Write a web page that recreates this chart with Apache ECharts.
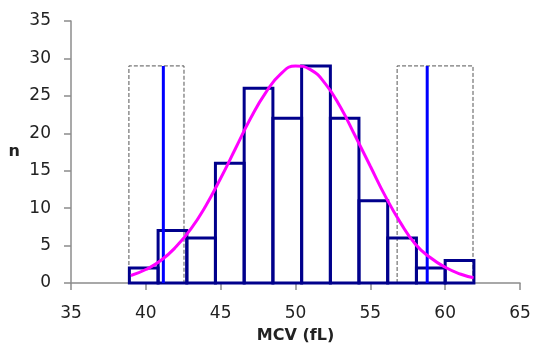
<!DOCTYPE html>
<html><head><meta charset="utf-8">
<script src="https://cdn.jsdelivr.net/npm/echarts@6/dist/echarts.min.js"></script>
<style>html,body{margin:0;padding:0;background:#fff}#c{width:534px;height:347px}</style>
</head><body><div id="c"></div>
<script>
const binEdges = [38.9, 40.82, 42.74, 44.65, 46.57, 48.49, 50.41, 52.33, 54.24, 56.16, 58.08, 60.0, 61.92];
const counts = [2, 7, 6, 16, 26, 22, 29, 22, 11, 6, 2, 3];
const curveX = [39, 40, 41, 42, 43, 44, 45, 46, 47, 48, 49, 50, 51, 52, 53, 54, 55, 56, 57, 58, 59, 60, 61, 61.9];
const curveY = [1.0, 1.8, 3.0, 4.8, 7.2, 10.3, 14.0, 18.0, 22.0, 25.4, 27.9, 29.0, 28.5, 26.6, 23.5, 19.6, 15.6, 11.6, 8.1, 5.2, 3.4, 2.1, 1.2, 0.7];
const limitLines = [41.17, 58.8];
const limitHeight = 29;
const boxes = [[38.87, 42.55], [56.79, 61.86]];
const xTicks = [35, 40, 45, 50, 55, 60, 65];
const yTicks = [0, 5, 10, 15, 20, 25, 30, 35];

const FONT = 'DejaVu Sans';
const histData = counts.map((c, i) => [binEdges[i], binEdges[i + 1], c]);
const curveData = curveX.map((x, i) => [x, curveY[i]]);

const series = [];
boxes.forEach(b => {
  series.push({
    type: 'line', symbol: 'none', silent: true, z: 1,
    data: [[b[0], 0], [b[0], limitHeight], [b[1], limitHeight], [b[1], 0]],
    lineStyle: { color: '#555', width: 1, type: [4, 2] }
  });
});
series.push({
  type: 'custom', z: 2,
  renderItem: function (params, api) {
    const p0 = api.coord([api.value(0), api.value(2)]);
    const p1 = api.coord([api.value(1), 0]);
    return {
      type: 'rect',
      shape: { x: p0[0], y: p0[1], width: p1[0] - p0[0], height: p1[1] - p0[1] },
      style: { fill: 'none', stroke: '#00008C', lineWidth: 3, lineJoin: 'miter' }
    };
  },
  encode: { x: [0, 1], y: 2 },
  data: histData
});
limitLines.forEach(x => {
  series.push({
    type: 'line', symbol: 'none', silent: true, z: 3,
    data: [[x, 0], [x, limitHeight]],
    lineStyle: { color: '#0000FF', width: 3 }
  });
});
series.push({
  type: 'line', symbol: 'none', smooth: true, z: 4,
  data: curveData,
  lineStyle: { color: '#FF00FF', width: 3 }
});

const axisCommon = {
  axisLine: { show: true, lineStyle: { color: '#8c8c8c', width: 1.5 } },
  axisTick: { show: true, inside: false, length: 7, lineStyle: { color: '#8c8c8c', width: 1.5 } },
  splitLine: { show: false },
  axisLabel: { color: '#222', fontFamily: FONT, fontSize: 17 }
};

const chart = echarts.init(document.getElementById('c'), null, { renderer: 'canvas' });
chart.setOption({
  animation: false,
  backgroundColor: '#fff',
  grid: { left: 71, right: 14, top: 21, bottom: 64, containLabel: false, outerBoundsMode: 'none' },
  xAxis: Object.assign({}, axisCommon, {
    type: 'value', min: xTicks[0], max: xTicks[xTicks.length - 1], interval: 5,
    name: 'MCV (fL)', nameLocation: 'middle', nameGap: 45,
    nameTextStyle: { color: '#222', fontFamily: FONT, fontSize: 16, fontWeight: 'bold' },
    axisLabel: Object.assign({}, axisCommon.axisLabel, { margin: 22 })
  }),
  yAxis: Object.assign({}, axisCommon, {
    type: 'value', min: yTicks[0], max: yTicks[yTicks.length - 1], interval: 5,
    name: 'n', nameLocation: 'middle', nameGap: 51, nameRotate: 0,
    nameTextStyle: { color: '#222', fontFamily: FONT, fontSize: 16, fontWeight: 'bold' },
    axisLabel: Object.assign({}, axisCommon.axisLabel, { margin: 20 })
  }),
  series: series
});
</script></body></html>
